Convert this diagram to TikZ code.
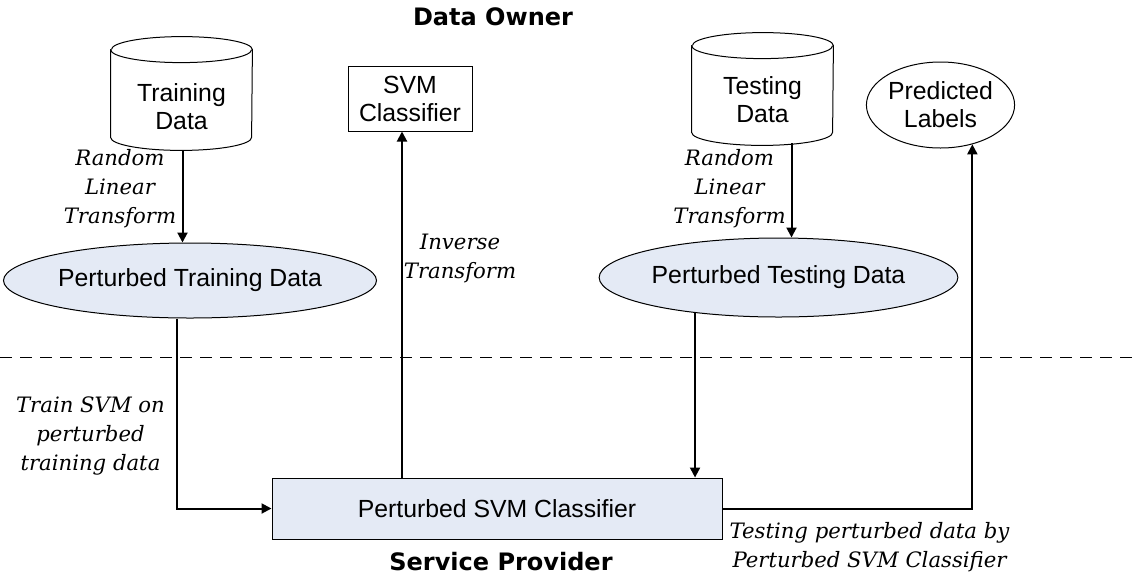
\documentclass[tikz,border=0pt]{standalone}
\usepackage{fontspec}
\setmainfont{Liberation Sans}
\newfontfamily\lblfont{DejaVu Serif}
\newfontfamily\ttlfont{DejaVu Sans}
\usetikzlibrary{shapes.geometric,arrows.meta}
\definecolor{blobfill}{RGB}{228,234,245}
\def\pxu{0.5pt}
\tikzset{
  dbline/.style={draw, line width=0.5pt, fill=white},
  blob/.style={ellipse, draw, line width=0.5pt, fill=blobfill, inner sep=0pt},
  box/.style={rectangle, draw, line width=0.5pt, inner sep=0pt},
  txt/.style={align=center, font=\fontsize{12.4}{14}\selectfont},
  lbl/.style={align=center, font=\lblfont\itshape\fontsize{10.6}{14.5}\selectfont},
  ttl/.style={font=\ttlfont\bfseries\fontsize{12}{14}\selectfont},
  arr/.style={-{Triangle[length=5pt,width=5pt]}, line width=1pt},
}
\begin{document}
\begin{tikzpicture}[x=0.5pt, y=-0.5pt]
  \useasboundingbox (0,0) rectangle (1134,579);

  %Data Owner side
  \node[ttl] (owner) at (493,17) {Data Owner};

  %Training Data cylinder
  \node[inner sep=0pt, minimum width=141*\pxu, minimum height=113*\pxu] (trdata) at (181.5,93.5) {};
  \draw[dbline] ([yshift=-6.5pt]trdata.north west) -- ([yshift=6.5pt]trdata.south west)
    arc (180:360:35.25pt and 6.5pt) -- ([yshift=-6.5pt]trdata.north east)
    arc (0:180:35.25pt and 6.5pt) -- cycle;
  \draw[dbline] ([yshift=-6.5pt]trdata.north west) arc (180:360:35.25pt and 6.5pt);
  \node[txt] (trdatatxt) at (181.5,107) {Training\\Data};

  \node[blob, minimum width=300*\pxu, minimum height=75*\pxu, txt] (pertrain) at (190,280.5) {Perturbed Training Data};

  \node[box, minimum width=124*\pxu, minimum height=65*\pxu, txt] (svm) at (410,98.5) {SVM\\Classifier};

  %Testing Data cylinder
  \node[inner sep=0pt, minimum width=141*\pxu, minimum height=112*\pxu] (tedata) at (762.5,89) {};
  \draw[dbline] ([yshift=-6.5pt]tedata.north west) -- ([yshift=6.5pt]tedata.south west)
    arc (180:360:35.25pt and 6.5pt) -- ([yshift=-6.5pt]tedata.north east)
    arc (0:180:35.25pt and 6.5pt) -- cycle;
  \draw[dbline] ([yshift=-6.5pt]tedata.north west) arc (180:360:35.25pt and 6.5pt);
  \node[txt] (tedatatxt) at (762.5,100) {Testing\\Data};

  \node[blob, minimum width=323*\pxu, minimum height=79*\pxu, txt] (pertest) at (778.5,277.5) {Perturbed Testing Data};

  \node[draw, ellipse, line width=0.5pt, inner sep=0pt, minimum width=147*\pxu, minimum height=86*\pxu, txt] (pred) at (940.5,105) {Predicted\\Labels};

  %split line
  \draw[dash pattern=on 6pt off 4pt, line width=0.5pt] (0,357) -- (1134,357);

  %Service Provider side
  \node[box, fill=blobfill, minimum width=450*\pxu, minimum height=61*\pxu, txt] (psvm) at (497,508.5) {Perturbed SVM Classifier};
  \node[ttl] (provider) at (501,562) {Service Provider};

  %labels
  \node[lbl] (rlt1) at (120,189) {Random\\Linear\\Transform};
  \node[lbl] (inv) at (460,258) {Inverse\\Transform};
  \node[lbl] (rlt2) at (729.5,189) {Random\\Linear\\Transform};
  \node[lbl] (train) at (90.5,436) {Train SVM on\\perturbed\\training data};
  \node[lbl] (testing) at (869.5,547.5) {Testing perturbed data by\\Perturbed SVM Classifier};

  %connectors
  \draw[arr] ([xshift=1*\pxu]trdata.south) -- ([xshift=1*\pxu]trdata.south |- pertrain.north);
  \draw[arr] ([xshift=29*\pxu, yshift=1pt]tedata.south) -- ([xshift=29*\pxu]tedata.south |- pertest.north);
  \draw[arr] ([xshift=-13*\pxu]pertrain.south) |- (psvm.west);
  \draw[arr] ([xshift=-8*\pxu]svm.south |- psvm.north) -- ([xshift=-8*\pxu]svm.south);
  \draw[arr] (pertest.-157) -- (pertest.-157 |- psvm.north);
  \draw[arr] (psvm.east) -| (pred.-51);
\end{tikzpicture}
\end{document}
